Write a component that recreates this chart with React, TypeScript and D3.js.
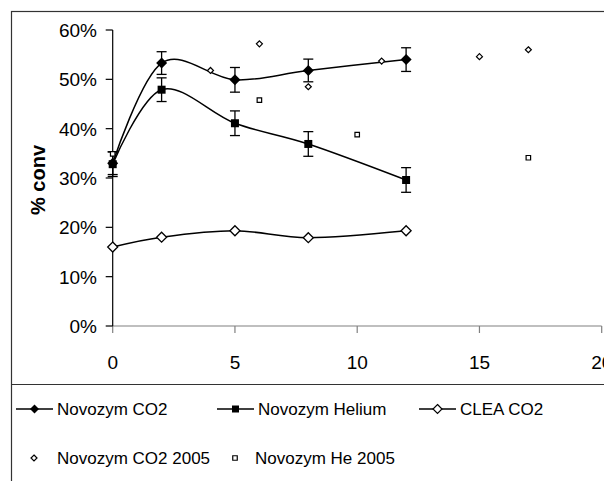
import React from 'react'
import { scaleLinear, line, curveCardinal } from 'd3'

// time points and conversion (fraction)
const times = [0, 2, 5, 8, 12]
const novozymCO2 = [0.33, 0.533, 0.499, 0.518, 0.54]
const novozymHe = [0.328, 0.479, 0.411, 0.369, 0.296]
const cleaCO2 = [0.16, 0.18, 0.193, 0.179, 0.193]
const errCO2 = [0.023, 0.023, 0.025, 0.023, 0.024]
const errHe = [0.025, 0.024, 0.025, 0.025, 0.025]

const co2005X = [4, 6, 8, 11, 15, 17]
const co2005Y = [0.518, 0.572, 0.485, 0.537, 0.546, 0.56]
const he2005X = [0, 6, 10, 17]
const he2005Y = [0.349, 0.458, 0.388, 0.341]

const xTicks = [0, 5, 10, 15, 20]
const yTicks = [0, 0.1, 0.2, 0.3, 0.4, 0.5, 0.6]

const FONT = '"Liberation Sans", Arial, sans-serif'

// excel style markers: diamond is a square turned 45deg
const diamond = (r: number) => `M0,${-r}L${r},0L0,${r}L${-r},0Z`
const square = (s: number) => `M${-s / 2},${-s / 2}h${s}v${s}h${-s}Z`

export default function App() {
  const x = scaleLinear().domain([0, 20]).range([112.7, 601.7])
  const y = scaleLinear().domain([0, 0.6]).range([326, 30])

  const smooth = line<number>()
    .x((d, i) => x(times[i]))
    .y((d) => y(d))
    .curve(curveCardinal.tension(0))

  const errBars = (vals: number[], errs: number[], key: string) =>
    vals.map((v, i) => (
      <g key={key + i} stroke="#000" strokeWidth={1.3}>
        <line x1={x(times[i])} x2={x(times[i])} y1={y(v + errs[i])} y2={y(v - errs[i])} />
        <line x1={x(times[i]) - 5} x2={x(times[i]) + 5} y1={y(v + errs[i])} y2={y(v + errs[i])} />
        <line x1={x(times[i]) - 5} x2={x(times[i]) + 5} y1={y(v - errs[i])} y2={y(v - errs[i])} />
      </g>
    ))

  const legendRow1 = [
    { lx: 16, label: 'Novozym CO2', mark: <path d={diamond(4.5)} fill="#000" /> },
    { lx: 217, label: 'Novozym Helium', mark: <path d={square(7)} fill="#000" /> },
    { lx: 419, label: 'CLEA CO2', mark: <path d={diamond(4.5)} fill="#fff" stroke="#000" strokeWidth={1.2} /> },
  ]

  return (
    <svg width={604} height={481} style={{ position: 'absolute', left: 0, top: 0 }} fontFamily={FONT}>
      <rect x={0} y={0} width={604} height={481} fill="#fff" />
      {/* chart frame */}
      <rect x={11.5} y={11.5} width={700} height={600} fill="none" stroke="#333" strokeWidth={1.2} />
      <line x1={11.5} x2={604} y1={384.5} y2={384.5} stroke="#333" strokeWidth={1.2} />

      {/* axes */}
      <line x1={x(0)} x2={x(20)} y1={y(0)} y2={y(0)} stroke="#808080" strokeWidth={1.2} />
      {xTicks.map((t) => (
        <g key={'xt' + t}>
          <line x1={x(t)} x2={x(t)} y1={y(0)} y2={y(0) + 7} stroke="#808080" strokeWidth={1.2} />
          <text x={x(t)} y={369} textAnchor="middle" fontSize={19}>
            {t}
          </text>
        </g>
      ))}
      <line x1={x(0)} x2={x(0)} y1={y(0.6)} y2={y(0)} stroke="#000" strokeWidth={1.2} />
      {yTicks.map((t) => (
        <g key={'yt' + t}>
          <line x1={x(0) - 7} x2={x(0)} y1={y(t)} y2={y(t)} stroke="#000" strokeWidth={1.2} />
          <text x={97} y={y(t) + 7} textAnchor="end" fontSize={19}>
            {Math.round(t * 100) + '%'}
          </text>
        </g>
      ))}
      <text transform="translate(45,180) rotate(-90)" textAnchor="middle" fontSize={20} fontWeight="bold">
        % conv
      </text>

      {/* series lines */}
      <path d={smooth(novozymCO2) || ''} fill="none" stroke="#000" strokeWidth={1.5} />
      <path d={smooth(novozymHe) || ''} fill="none" stroke="#000" strokeWidth={1.5} />
      <path d={smooth(cleaCO2) || ''} fill="none" stroke="#000" strokeWidth={1.5} />

      {errBars(novozymCO2, errCO2, 'ec')}
      {errBars(novozymHe, errHe, 'eh')}

      {novozymCO2.map((v, i) => (
        <path key={'nc' + i} d={diamond(5.5)} transform={`translate(${x(times[i])},${y(v)})`} fill="#000" />
      ))}
      {novozymHe.map((v, i) => (
        <path key={'nh' + i} d={square(8)} transform={`translate(${x(times[i])},${y(v)})`} fill="#000" />
      ))}
      {cleaCO2.map((v, i) => (
        <path
          key={'cc' + i}
          d={diamond(5)}
          transform={`translate(${x(times[i])},${y(v)})`}
          fill="#fff"
          stroke="#000"
          strokeWidth={1.3}
        />
      ))}
      {co2005Y.map((v, i) => (
        <path
          key={'c5' + i}
          d={diamond(3)}
          transform={`translate(${x(co2005X[i])},${y(v)})`}
          fill="#fff"
          stroke="#000"
          strokeWidth={1.2}
        />
      ))}
      {he2005Y.map((v, i) => (
        <path
          key={'h5' + i}
          d={square(4.5)}
          transform={`translate(${x(he2005X[i])},${y(v)})`}
          fill="#fff"
          stroke="#000"
          strokeWidth={1.2}
        />
      ))}

      {/* legend */}
      {legendRow1.map((l) => (
        <g key={l.label}>
          <line x1={l.lx} x2={l.lx + 37} y1={409} y2={409} stroke="#000" strokeWidth={1.5} />
          <g transform={`translate(${l.lx + 18.5},409)`}>{l.mark}</g>
          <text x={l.lx + 41} y={415} fontSize={17}>
            {l.label}
          </text>
        </g>
      ))}
      <path d={diamond(3)} transform="translate(34,458)" fill="#fff" stroke="#000" strokeWidth={1.2} />
      <text x={57} y={464} fontSize={17}>
        Novozym CO2 2005
      </text>
      <path d={square(4.5)} transform="translate(235,458)" fill="#fff" stroke="#000" strokeWidth={1.2} />
      <text x={255} y={464} fontSize={17}>
        Novozym He 2005
      </text>
    </svg>
  )
}
